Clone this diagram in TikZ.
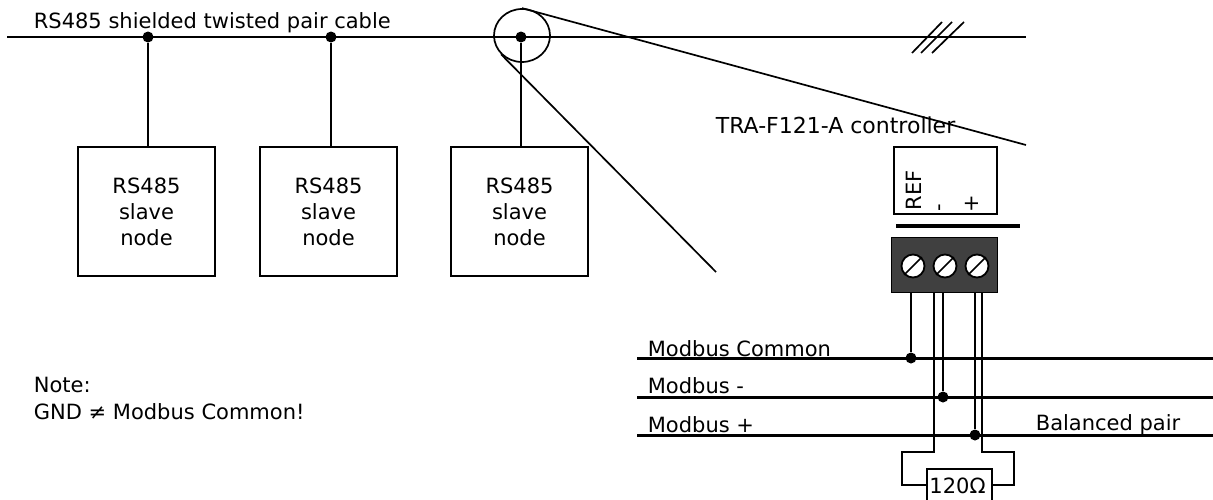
\documentclass[tikz,border=0pt]{standalone}
\usepackage{fontspec}
\setmainfont{DejaVu Sans}
\usetikzlibrary{shapes.geometric}
\tikzset{
  slavebox/.style={draw,minimum width=137pt,minimum height=129pt,align=center,inner sep=0pt},
  junction/.style={circle,fill=black,inner sep=0pt,minimum size=11pt},
  label/.style={inner sep=0pt,anchor=base west},
  upright/.style={inner sep=0pt,rotate=90},
  screw/.style={circle,draw,fill=white,line width=1.8pt,inner sep=0pt,minimum size=23pt},
  bus/.style={line width=3pt}
}
\begin{document}
\begin{tikzpicture}[x=1pt,y=-1pt,line width=1.7pt,font=\fontsize{21}{26}\selectfont]
  \useasboundingbox (0,0) rectangle (1213,499);
  % cable and slaves
  \coordinate (cableL) at (7,37);
  \coordinate (cableR) at (1026,37);
  \draw[line width=2pt] (cableL) -- (cableR);
  \node[label] (cablelabel) at (33,28) {RS485 shielded twisted pair cable};
  \node[junction] (dotA) at (148,37) {};
  \node[junction] (dotB) at (331,37) {};
  \node[junction] (dotC) at (521,37) {};
  \node[slavebox] (slaveA) at (146.5,211.5) {RS485\\slave\\node};
  \node[slavebox] (slaveB) at (328.5,211.5) {RS485\\slave\\node};
  \node[slavebox] (slaveC) at (519.5,211.5) {RS485\\slave\\node};
  \draw (dotA) -- (dotA |- slaveA.north);
  \draw (dotB) -- (dotB |- slaveB.north);
  \draw (dotC) -- (dotC |- slaveC.north);
  % break marks
  \foreach \name/\xa/\xb in {A/912/942,B/921/952,C/932/964} {
    \coordinate (slash\name a) at (\xa,53);
    \coordinate (slash\name b) at (\xb,22);
    \draw (slash\name a) -- (slash\name b);
  }
  % detail lens
  \node[draw,ellipse,inner sep=0pt,minimum width=56pt,minimum height=53pt] (lens) at (522,35.5) {};
  \coordinate (lensR) at (1026,145);
  \coordinate (lensL) at (716,272);
  \draw (lens.north) -- (lensR);
  \draw (lens.222) -- (lensL);
  % controller
  \node[label,font=\fontsize{22}{26}\selectfont] (ctrllabel) at (715,133) {TRA-F121-A controller};
  \draw (894,147) rectangle (997,214);
  \node[upright,anchor=base west] (reflabel) at (921,211) {REF};
  \node[upright] (minus) at (942,208) {-};
  \node[upright] (plus) at (972,204) {+};
  \draw[line width=3.2pt] (896,226) -- (1020,226);
  \node[draw,fill=black!75,minimum width=106pt,minimum height=55pt,inner sep=0pt] (block) at (944.5,265) {};
  \foreach \name/\x in {A/913,B/945,C/977} {
    \node[screw] (screw\name) at (\x,266) {};
    \draw (screw\name.225) -- (screw\name.45);
  }
  % modbus lines
  \foreach \name/\y in {Common/358,Minus/397,Plus/435} {
    \coordinate (bus\name L) at (637,\y);
    \coordinate (bus\name R) at (1213,\y);
    \draw[bus] (bus\name L) -- (bus\name R);
  }
  \node[label] (labelC) at (647,356) {Modbus Common};
  \node[label] (labelM) at (647,393) {Modbus -};
  \node[label] (labelP) at (647,432) {Modbus +};
  \node[label] (labelB) at (1035,430) {Balanced pair};
  \node[junction] (dotCommon) at (911,358) {};
  \node[junction] (dotMinus) at (943,397) {};
  \node[junction] (dotPlus) at (975,435) {};
  \draw (dotCommon |- block.south) -- (dotCommon);
  \draw (dotMinus |- block.south) -- (dotMinus);
  \draw (dotPlus |- block.south) -- (dotPlus);
  % terminator
  \node[draw,fill=white,minimum width=65pt,minimum height=45pt,inner sep=0pt,anchor=north] (term) at (959.5,468) {};
  \node[label,anchor=base] (termlabel) at (957.5,493) {120Ω};
  \coordinate (tapL) at (934,292);
  \coordinate (tapR) at (982,292);
  \draw (tapL) |- (902,452) |- (term.west |- 0,485);
  \draw (tapR) |- (1014,452) |- (term.east |- 0,485);
  % note
  \node[label] (notea) at (33,392.5) {Note:};
  \node[label] (noteb) at (33,419) {GND ≠ Modbus Common!};
\end{tikzpicture}
\end{document}
